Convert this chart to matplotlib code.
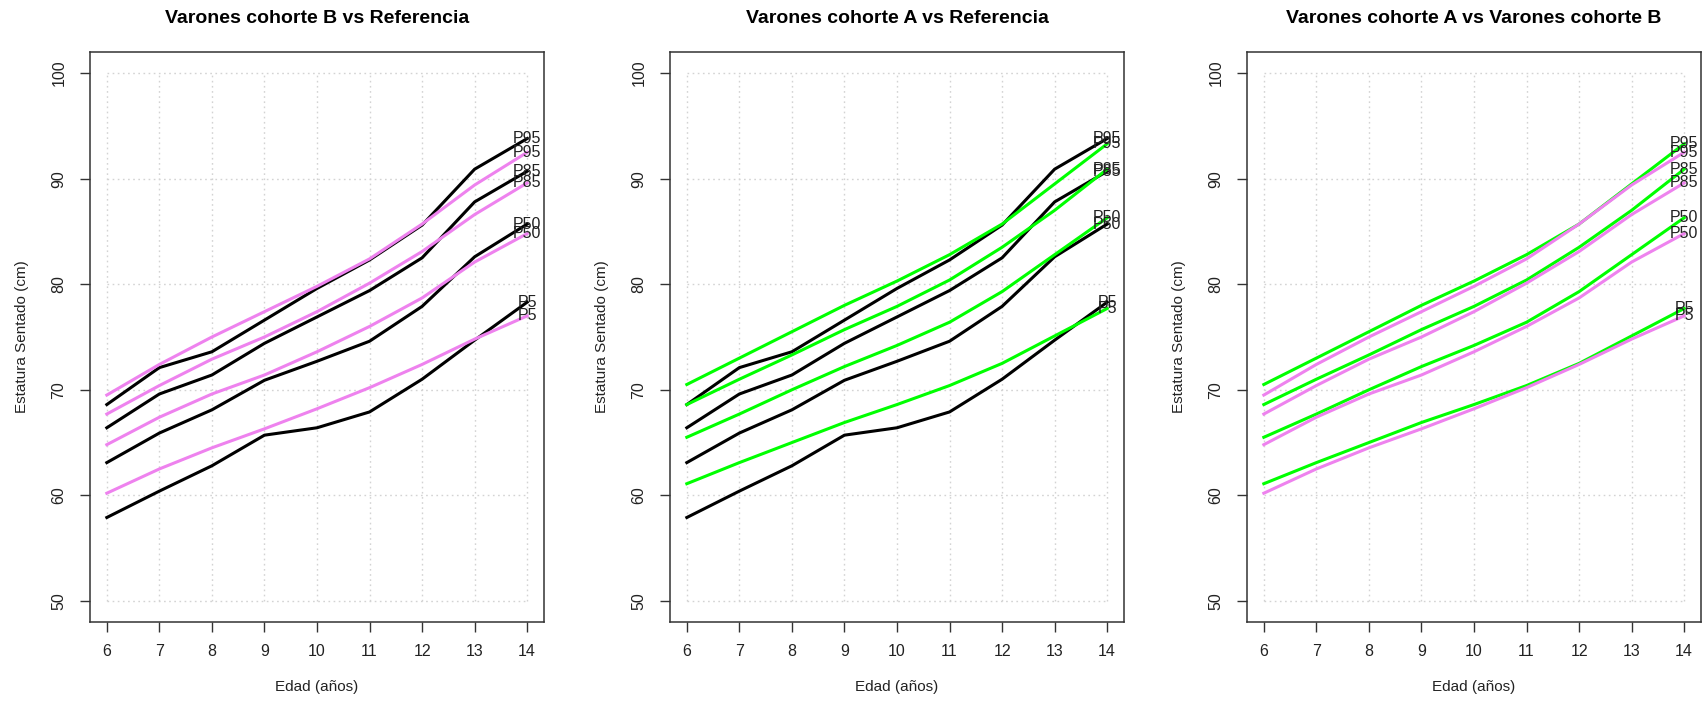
import matplotlib
matplotlib.use('Agg')
from matplotlib import pyplot as plt

# Edad y percentiles de estatura sentado (cm)
edad = [6, 7, 8, 9, 10, 11, 12, 13, 14]
percentiles = ['P5', 'P50', 'P85', 'P95']

ref_p5 = [60.2, 62.5, 64.5, 66.3, 68.2, 70.2, 72.4, 74.8, 77.0]
ref_p50 = [64.8, 67.4, 69.6, 71.4, 73.6, 76.0, 78.7, 82.1, 84.8]
ref_p85 = [67.7, 70.4, 72.9, 75.0, 77.4, 80.1, 83.1, 86.6, 89.6]
ref_p95 = [69.5, 72.4, 75.0, 77.4, 79.8, 82.4, 85.7, 89.4, 92.5]

cohB_p5 = [57.9, 60.4, 62.8, 65.7, 66.4, 67.9, 71.0, 74.7, 78.3]
cohB_p50 = [63.1, 65.9, 68.1, 70.9, 72.7, 74.6, 77.9, 82.6, 85.7]
cohB_p85 = [66.4, 69.6, 71.4, 74.4, 76.9, 79.4, 82.5, 87.8, 90.7]
cohB_p95 = [68.6, 72.1, 73.6, 76.6, 79.6, 82.3, 85.6, 90.9, 93.8]

cohA_p5 = [61.1, 63.1, 65.0, 66.9, 68.6, 70.4, 72.5, 75.1, 77.7]
cohA_p50 = [65.5, 67.7, 70.0, 72.2, 74.2, 76.4, 79.3, 82.8, 86.3]
cohA_p85 = [68.6, 71.0, 73.3, 75.7, 77.9, 80.4, 83.5, 87.0, 90.9]
cohA_p95 = [70.5, 73.0, 75.5, 78.0, 80.3, 82.8, 85.7, 89.5, 93.3]

ref = [ref_p5, ref_p50, ref_p85, ref_p95]
cohB = [cohB_p5, cohB_p50, cohB_p85, cohB_p95]
cohA = [cohA_p5, cohA_p50, cohA_p85, cohA_p95]

titulos = ['Varones cohorte B vs Referencia',
           'Varones cohorte A vs Referencia',
           'Varones cohorte A vs Varones cohorte B']
paneles = [(cohB, 'black', ref, 'violet'),
           (cohB, 'black', cohA, '#00ff00'),
           (cohA, '#00ff00', ref, 'violet')]

plt.rcParams['font.family'] = ['Liberation Sans', 'DejaVu Sans']

fig = plt.figure(figsize=(17.02, 7.02), dpi=100)
W, H = 1702, 702
lefts = [90, 670, 1247]

for left, titulo, (s1, c1, s2, c2) in zip(lefts, titulos, paneles):
    ax = fig.add_axes([left / W, (H - 622) / H, 454 / W, 570 / H])

    # cuadricula punteada solo en el rango de los datos
    ax.hlines(range(50, 101, 10), 6, 14, colors='#d3d3d3', linestyles=(0, (1.2, 2.5)), linewidth=1.0, zorder=0)
    ax.vlines(edad, 50, 100, colors='#d3d3d3', linestyles=(0, (1.2, 2.5)), linewidth=1.0, zorder=0)

    for serie in s1:
        ax.plot(edad, serie, color=c1, linewidth=2.2, zorder=2)
    for serie in s2:
        ax.plot(edad, serie, color=c2, linewidth=2.2, zorder=2)
    for series in (s1, s2):
        for nombre, serie in zip(percentiles, series):
            ax.text(edad[-1], serie[-1], nombre, ha='center', va='center',
                    fontsize=11.5, color='#222222', zorder=3)

    ax.set_xlim(6 - 0.32, 14 + 0.32)
    ax.set_ylim(48, 102)
    ax.set_xticks(edad)
    ax.set_yticks(range(50, 101, 10))
    ax.tick_params(axis='both', length=7, width=1.0, color='#333333', labelsize=11.5, labelcolor='#222222')
    ax.tick_params(axis='x', pad=9)
    ax.tick_params(axis='y', pad=10)
    for lab in ax.get_yticklabels():
        lab.set_rotation(90)
        lab.set_va('center')
    for sp in ax.spines.values():
        sp.set_color('#333333')
        sp.set_linewidth(1.1)

    ax.set_title(titulo, fontsize=14, fontweight='bold', pad=21)
    ax.set_xlabel('Edad (años)', fontsize=11, color='#222222', va='center')
    ax.xaxis.set_label_coords(0.5, (622 - 687) / 570)
    ax.set_ylabel('Estatura Sentado (cm)', fontsize=11, color='#222222', va='center')
    ax.yaxis.set_label_coords((22 - 90) / 454, 0.5)

fig.savefig('out.png', dpi=100)
